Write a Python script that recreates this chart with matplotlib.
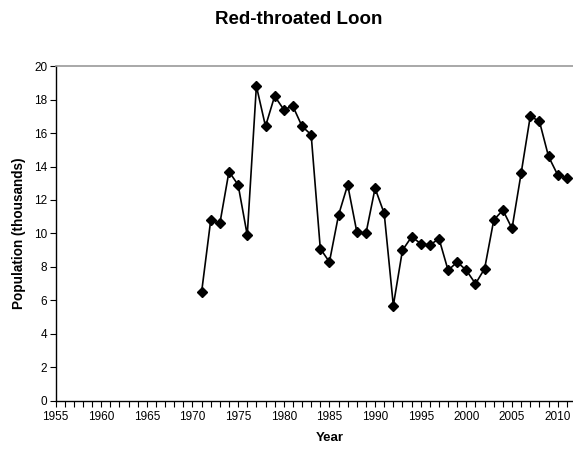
import matplotlib
matplotlib.use("Agg")
import matplotlib.pyplot as plt
from matplotlib.ticker import MultipleLocator

plt.rcParams['font.family'] = ['Liberation Sans', 'DejaVu Sans']

# Data
years = list(range(1971, 2012))
population = [6.5, 10.8, 10.6, 13.7, 12.9, 9.9, 18.8, 16.4, 18.2, 17.4,
              17.6, 16.4, 15.9, 9.1, 8.3, 11.1, 12.9, 10.1, 10.0, 12.7,
              11.2, 5.7, 9.0, 9.8, 9.4, 9.3, 9.7, 7.8, 8.3, 7.8,
              7.0, 7.9, 10.8, 11.4, 10.3, 13.6, 17.0, 16.7, 14.6, 13.5,
              13.3]
xticks = list(range(1955, 2015, 5))
yticks = list(range(0, 21, 2))

fig = plt.figure(figsize=(5.73, 4.53), dpi=100)
# plot area runs past the right edge of the picture, as in the original
ax = fig.add_axes([0.0969, 0.1148, 0.956, 0.7395])

ax.plot(years, population, color='black', lw=1.2, marker='D', ms=5.5,
        markerfacecolor='black', markeredgecolor='black')

ax.set_xlim(1955, 2015)
ax.set_ylim(0, 20)
ax.set_xticks(xticks)
ax.xaxis.set_minor_locator(MultipleLocator(1))
ax.set_yticks(yticks)

ax.spines['right'].set_visible(False)
ax.spines['top'].set_color('#999999')
ax.spines['top'].set_linewidth(1.2)
for s in ('left', 'bottom'):
    ax.spines[s].set_linewidth(1.0)

ax.tick_params(axis='both', which='both', direction='out', length=4,
               width=0.8, labelsize=8.5, colors='black')
ax.tick_params(axis='y', pad=2)

ax.set_xlabel('Year', fontsize=9.5, fontweight='bold', labelpad=6)
ax.set_ylabel('Population (thousands)', fontsize=9.8, fontweight='bold', labelpad=6)
fig.suptitle('Red-throated Loon', fontsize=13.5, fontweight='bold',
             x=0.522, y=0.975)

fig.savefig('out.png', dpi=100)
